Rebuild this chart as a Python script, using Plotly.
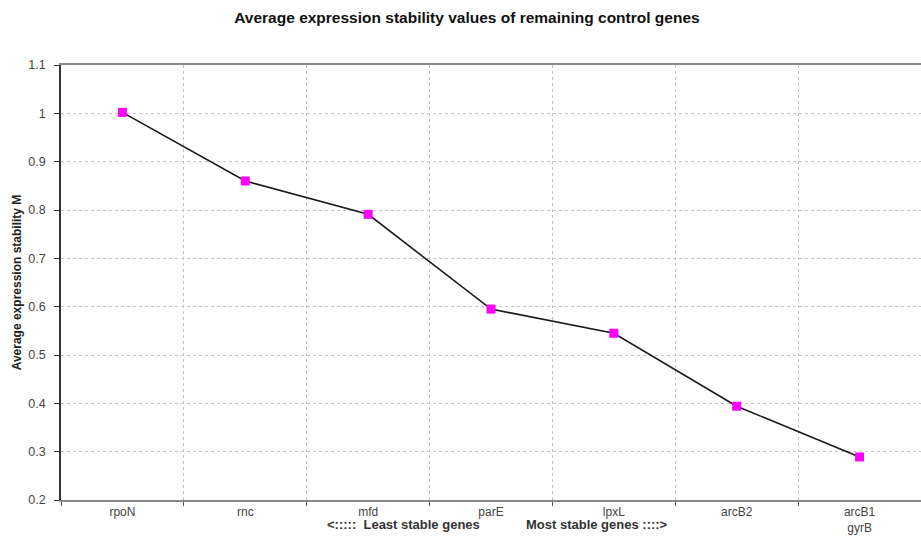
import plotly.graph_objects as go

# geNorm-style ranking of candidate reference genes (least -> most stable)
genes = ["rpoN", "rnc", "mfd", "parE", "lpxL", "arcB2", "arcB1<br>gyrB"]
stability_m = [1.002, 0.860, 0.791, 0.595, 0.545, 0.394, 0.289]
y_ticks = [0.2, 0.3, 0.4, 0.5, 0.6, 0.7, 0.8, 0.9, 1.0, 1.1]
y_tick_text = ["0.2", "0.3", "0.4", "0.5", "0.6", "0.7", "0.8", "0.9", "1", "1.1"]

FONT = "Liberation Sans, Arial, sans-serif"

fig = go.Figure(
    go.Scatter(
        x=genes,
        y=stability_m,
        mode="lines+markers",
        line=dict(color="#1a1a1a", width=1.6),
        marker=dict(symbol="square", size=9, color="#ff00ff"),
        showlegend=False,
    )
)

fig.update_layout(
    width=921,
    height=540,
    margin=dict(l=61, r=0, t=65, b=40),
    paper_bgcolor="white",
    plot_bgcolor="white",
    font=dict(family=FONT, size=12, color="#333333"),
    title=dict(
        text="<b>Average expression stability values of remaining control genes</b>",
        x=0.507,
        xanchor="center",
        y=0.967,
        yanchor="middle",
        font=dict(family=FONT, size=15.5, color="#111111"),
    ),
)

fig.update_xaxes(
    type="category",
    range=[-0.5, 6.5],
    tickson="boundaries",
    ticks="outside",
    ticklen=4,
    tickcolor="#555555",
    showgrid=True,
    gridcolor="#c4c4c4",
    griddash="dot",
    gridwidth=1,
    showline=True,
    linecolor="#8a8a8a",
    linewidth=1.5,
    mirror=True,
    tickfont=dict(size=12, color="#444444"),
    zeroline=False,
)

fig.update_yaxes(
    range=[0.2, 1.1],
    tickmode="array",
    tickvals=y_ticks,
    ticktext=y_tick_text,
    ticks="outside",
    ticklen=5,
    tickcolor="#333333",
    ticklabelstandoff=6,
    showgrid=True,
    gridcolor="#c4c4c4",
    griddash="dot",
    gridwidth=1,
    showline=True,
    linecolor="#333333",
    linewidth=1.5,
    tickfont=dict(size=12.5, color="#444444"),
    zeroline=False,
    title=dict(
        text="<b>Average expression stability M</b>",
        font=dict(family=FONT, size=12, color="#222222"),
        standoff=4,
    ),
)

# direction hints below the category axis
fig.add_annotation(
    x=0.307, y=-0.056, xref="paper", yref="paper",
    text="<b>&lt;:::::  Least stable genes</b>",
    showarrow=False, xanchor="left", yanchor="middle",
    font=dict(family=FONT, size=13, color="#333333"),
)
fig.add_annotation(
    x=0.538, y=-0.056, xref="paper", yref="paper",
    text="<b>Most stable genes ::::&gt;</b>",
    showarrow=False, xanchor="left", yanchor="middle",
    font=dict(family=FONT, size=13, color="#333333"),
)

fig.write_html("out.html")
